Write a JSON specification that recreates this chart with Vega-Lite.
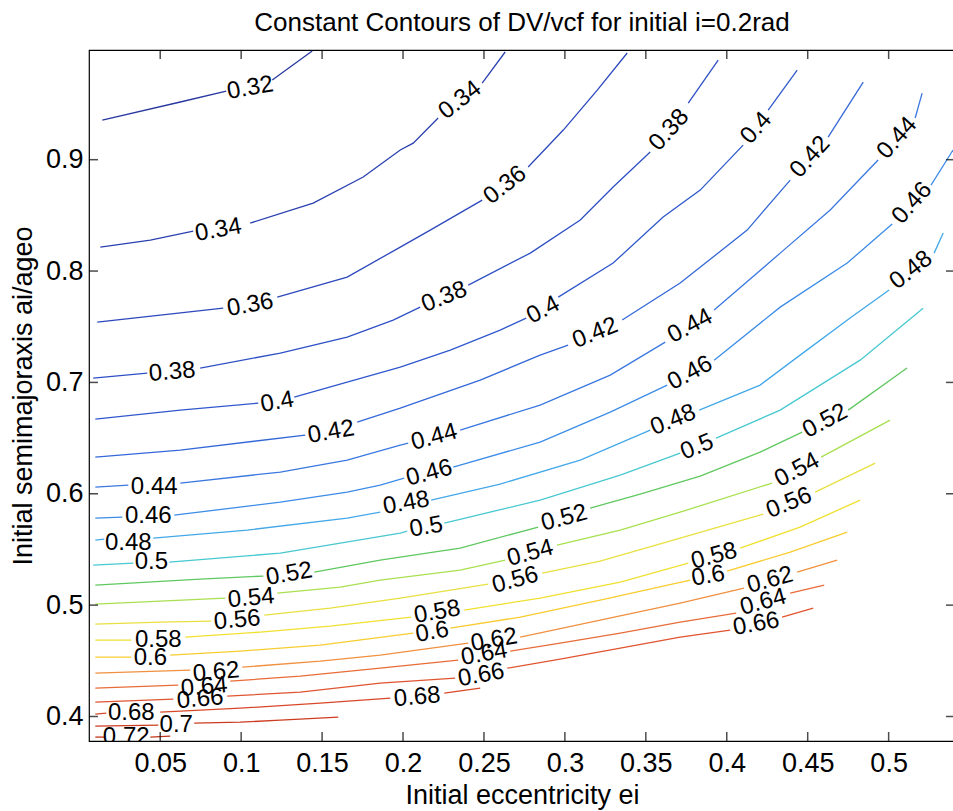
{
"$schema": "https://vega.github.io/schema/vega-lite/v6.json",
"width": 866, "height": 691,
"autosize": {"type": "none"},
"padding": {"left": 89, "top": 50, "right": 0, "bottom": 70},
"background": "white",
"title": {"text": "Constant Contours of DV/vcf for initial i=0.2rad", "fontSize": 26, "font": "Liberation Sans", "fontWeight": "normal", "color": "black", "anchor": "middle", "offset": 14},
"config": {
  "view": {"stroke": "black", "strokeWidth": 1.2},
  "axis": {"grid": false, "domain": false, "ticks": true, "zindex": 2, "tickColor": "#000000", "tickOpacity": 1, "tickWidth": 2, "labelColor": "black", "titleColor": "black", "labelFont": "Liberation Sans", "titleFont": "Liberation Sans", "labelFontSize": 27, "titleFontSize": 27, "titleFontWeight": "normal"}
},
"datasets": {
"lines": [
{"l":0.32,"s":0,"e":0.0142,"a":0.9356},{"l":0.32,"s":0,"e":0.0624,"a":0.9518},{"l":0.32,"s":0,"e":0.0908,"a":0.9615},
{"l":0.32,"s":1,"e":0.1192,"a":0.9715},{"l":0.32,"s":1,"e":0.1439,"a":0.9976},
{"l":0.34,"s":0,"e":0.0130,"a":0.8215},{"l":0.34,"s":0,"e":0.0439,"a":0.8278},{"l":0.34,"s":0,"e":0.0704,"a":0.8359},
{"l":0.34,"s":1,"e":0.1056,"a":0.8431},{"l":0.34,"s":1,"e":0.1445,"a":0.8610},{"l":0.34,"s":1,"e":0.1754,"a":0.8844},{"l":0.34,"s":1,"e":0.1983,"a":0.9087},{"l":0.34,"s":1,"e":0.2063,"a":0.9149},{"l":0.34,"s":1,"e":0.2217,"a":0.9374},
{"l":0.34,"s":2,"e":0.2489,"a":0.9688},{"l":0.34,"s":2,"e":0.2631,"a":0.9967},
{"l":0.36,"s":0,"e":0.0111,"a":0.7542},{"l":0.36,"s":0,"e":0.0500,"a":0.7605},{"l":0.36,"s":0,"e":0.0889,"a":0.7667},
{"l":0.36,"s":1,"e":0.1223,"a":0.7766},{"l":0.36,"s":1,"e":0.1655,"a":0.7946},{"l":0.36,"s":1,"e":0.1983,"a":0.8215},{"l":0.36,"s":1,"e":0.2168,"a":0.8368},{"l":0.36,"s":1,"e":0.2489,"a":0.8637},
{"l":0.36,"s":2,"e":0.2773,"a":0.8934},{"l":0.36,"s":2,"e":0.2990,"a":0.9266},{"l":0.36,"s":2,"e":0.3200,"a":0.9624},{"l":0.36,"s":2,"e":0.3385,"a":0.9958},
{"l":0.38,"s":0,"e":0.0086,"a":0.7039},{"l":0.38,"s":0,"e":0.0420,"a":0.7084},
{"l":0.38,"s":1,"e":0.0747,"a":0.7129},{"l":0.38,"s":1,"e":0.1242,"a":0.7263},{"l":0.38,"s":1,"e":0.1655,"a":0.7407},{"l":0.38,"s":1,"e":0.1939,"a":0.7560},{"l":0.38,"s":1,"e":0.2106,"a":0.7676},
{"l":0.38,"s":2,"e":0.2403,"a":0.7874},{"l":0.38,"s":2,"e":0.2786,"a":0.8161},{"l":0.38,"s":2,"e":0.3095,"a":0.8458},{"l":0.38,"s":2,"e":0.3298,"a":0.8754},{"l":0.38,"s":2,"e":0.3527,"a":0.9069},
{"l":0.38,"s":3,"e":0.3762,"a":0.9509},{"l":0.38,"s":3,"e":0.3947,"a":0.9895},
{"l":0.40,"s":0,"e":0.0099,"a":0.6671},{"l":0.40,"s":0,"e":0.0624,"a":0.6751},{"l":0.40,"s":0,"e":0.1106,"a":0.6814},
{"l":0.40,"s":1,"e":0.1328,"a":0.6868},{"l":0.40,"s":1,"e":0.1655,"a":0.7003},{"l":0.40,"s":1,"e":0.1983,"a":0.7138},{"l":0.40,"s":1,"e":0.2292,"a":0.7290},{"l":0.40,"s":1,"e":0.2600,"a":0.7470},{"l":0.40,"s":1,"e":0.2761,"a":0.7578},
{"l":0.40,"s":2,"e":0.2959,"a":0.7766},{"l":0.40,"s":2,"e":0.3298,"a":0.8072},{"l":0.40,"s":2,"e":0.3607,"a":0.8485},{"l":0.40,"s":2,"e":0.3836,"a":0.8727},{"l":0.40,"s":2,"e":0.4101,"a":0.9131},
{"l":0.40,"s":3,"e":0.4256,"a":0.9446},{"l":0.40,"s":3,"e":0.4435,"a":0.9805},
{"l":0.42,"s":0,"e":0.0099,"a":0.6329},{"l":0.42,"s":0,"e":0.0624,"a":0.6392},{"l":0.42,"s":0,"e":0.1396,"a":0.6527},
{"l":0.42,"s":1,"e":0.1717,"a":0.6644},{"l":0.42,"s":1,"e":0.1983,"a":0.6769},{"l":0.42,"s":1,"e":0.2477,"a":0.7021},{"l":0.42,"s":1,"e":0.2847,"a":0.7245},{"l":0.42,"s":1,"e":0.3020,"a":0.7335},
{"l":0.42,"s":2,"e":0.3354,"a":0.7560},{"l":0.42,"s":2,"e":0.3712,"a":0.7892},{"l":0.42,"s":2,"e":0.4126,"a":0.8368},{"l":0.42,"s":2,"e":0.4392,"a":0.8817},
{"l":0.42,"s":3,"e":0.4626,"a":0.9203},{"l":0.42,"s":3,"e":0.4843,"a":0.9697},
{"l":0.44,"s":0,"e":0.0099,"a":0.6060},{"l":0.44,"s":0,"e":0.0303,"a":0.6078},
{"l":0.44,"s":1,"e":0.0624,"a":0.6096},{"l":0.44,"s":1,"e":0.1242,"a":0.6195},{"l":0.44,"s":1,"e":0.1655,"a":0.6302},{"l":0.44,"s":1,"e":0.1983,"a":0.6437},{"l":0.44,"s":1,"e":0.2032,"a":0.6455},
{"l":0.44,"s":2,"e":0.2353,"a":0.6572},{"l":0.44,"s":2,"e":0.2847,"a":0.6796},{"l":0.44,"s":2,"e":0.3280,"a":0.7066},{"l":0.44,"s":2,"e":0.3620,"a":0.7362},
{"l":0.44,"s":3,"e":0.3922,"a":0.7650},{"l":0.44,"s":3,"e":0.4330,"a":0.8161},{"l":0.44,"s":3,"e":0.4639,"a":0.8548},{"l":0.44,"s":3,"e":0.4935,"a":0.8997},
{"l":0.44,"s":4,"e":0.5164,"a":0.9374},{"l":0.44,"s":4,"e":0.5207,"a":0.9598},
{"l":0.46,"s":0,"e":0.0099,"a":0.5782},{"l":0.46,"s":0,"e":0.0266,"a":0.5791},
{"l":0.46,"s":1,"e":0.0587,"a":0.5808},{"l":0.46,"s":1,"e":0.1242,"a":0.5925},{"l":0.46,"s":1,"e":0.1655,"a":0.6015},{"l":0.46,"s":1,"e":0.1859,"a":0.6078},{"l":0.46,"s":1,"e":0.2007,"a":0.6141},
{"l":0.46,"s":2,"e":0.2310,"a":0.6240},{"l":0.46,"s":2,"e":0.2847,"a":0.6464},{"l":0.46,"s":2,"e":0.3280,"a":0.6733},{"l":0.46,"s":2,"e":0.3632,"a":0.6976},
{"l":0.46,"s":3,"e":0.3922,"a":0.7200},{"l":0.46,"s":3,"e":0.4330,"a":0.7676},{"l":0.46,"s":3,"e":0.4744,"a":0.8072},{"l":0.46,"s":3,"e":0.5022,"a":0.8422},
{"l":0.46,"s":4,"e":0.5262,"a":0.8772},{"l":0.46,"s":4,"e":0.5398,"a":0.9087},
{"l":0.48,"s":0,"e":0.0099,"a":0.5584},{"l":0.48,"s":0,"e":0.0154,"a":0.5593},
{"l":0.48,"s":1,"e":0.0457,"a":0.5602},{"l":0.48,"s":1,"e":0.1038,"a":0.5674},{"l":0.48,"s":1,"e":0.1655,"a":0.5782},{"l":0.48,"s":1,"e":0.1859,"a":0.5835},
{"l":0.48,"s":2,"e":0.2174,"a":0.5943},{"l":0.48,"s":2,"e":0.2600,"a":0.6087},{"l":0.48,"s":2,"e":0.3095,"a":0.6302},{"l":0.48,"s":2,"e":0.3527,"a":0.6572},
{"l":0.48,"s":3,"e":0.3830,"a":0.6751},{"l":0.48,"s":3,"e":0.4206,"a":0.6976},{"l":0.48,"s":3,"e":0.4453,"a":0.7245},{"l":0.48,"s":3,"e":0.4762,"a":0.7578},{"l":0.48,"s":3,"e":0.5003,"a":0.7829},
{"l":0.48,"s":4,"e":0.5281,"a":0.8161},{"l":0.48,"s":4,"e":0.5337,"a":0.8341},
{"l":0.50,"s":0,"e":0.0086,"a":0.5359},{"l":0.50,"s":0,"e":0.0334,"a":0.5377},
{"l":0.50,"s":1,"e":0.0556,"a":0.5386},{"l":0.50,"s":1,"e":0.1242,"a":0.5467},{"l":0.50,"s":1,"e":0.1983,"a":0.5647},{"l":0.50,"s":1,"e":0.2026,"a":0.5665},
{"l":0.50,"s":2,"e":0.2255,"a":0.5737},{"l":0.50,"s":2,"e":0.2847,"a":0.5943},{"l":0.50,"s":2,"e":0.3342,"a":0.6168},{"l":0.50,"s":2,"e":0.3712,"a":0.6365},
{"l":0.50,"s":3,"e":0.3934,"a":0.6500},{"l":0.50,"s":3,"e":0.4330,"a":0.6751},{"l":0.50,"s":3,"e":0.4824,"a":0.7200},{"l":0.50,"s":3,"e":0.5213,"a":0.7667},
{"l":0.52,"s":0,"e":0.0099,"a":0.5180},{"l":0.52,"s":0,"e":0.0747,"a":0.5234},{"l":0.52,"s":0,"e":0.1137,"a":0.5261},
{"l":0.52,"s":1,"e":0.1452,"a":0.5297},{"l":0.52,"s":1,"e":0.1859,"a":0.5404},{"l":0.52,"s":1,"e":0.2353,"a":0.5512},{"l":0.52,"s":1,"e":0.2835,"a":0.5701},
{"l":0.52,"s":2,"e":0.3156,"a":0.5871},{"l":0.52,"s":2,"e":0.3465,"a":0.5997},{"l":0.52,"s":2,"e":0.3836,"a":0.6159},{"l":0.52,"s":2,"e":0.4206,"a":0.6374},{"l":0.52,"s":2,"e":0.4466,"a":0.6554},
{"l":0.52,"s":3,"e":0.4750,"a":0.6751},{"l":0.52,"s":3,"e":0.5114,"a":0.7129},
{"l":0.54,"s":0,"e":0.0099,"a":0.5009},{"l":0.54,"s":0,"e":0.0500,"a":0.5036},{"l":0.54,"s":0,"e":0.0902,"a":0.5063},
{"l":0.54,"s":1,"e":0.1223,"a":0.5108},{"l":0.54,"s":1,"e":0.1612,"a":0.5162},{"l":0.54,"s":1,"e":0.1859,"a":0.5225},{"l":0.54,"s":1,"e":0.2353,"a":0.5315},{"l":0.54,"s":1,"e":0.2631,"a":0.5404},
{"l":0.54,"s":2,"e":0.2952,"a":0.5539},{"l":0.54,"s":2,"e":0.3342,"a":0.5674},{"l":0.54,"s":2,"e":0.3712,"a":0.5835},{"l":0.54,"s":2,"e":0.4280,"a":0.6096},
{"l":0.54,"s":3,"e":0.4583,"a":0.6329},{"l":0.54,"s":3,"e":0.5009,"a":0.6662},
{"l":0.56,"s":0,"e":0.0099,"a":0.4830},{"l":0.56,"s":0,"e":0.0500,"a":0.4847},{"l":0.56,"s":0,"e":0.0815,"a":0.4856},
{"l":0.56,"s":1,"e":0.1143,"a":0.4910},{"l":0.56,"s":1,"e":0.1550,"a":0.4973},{"l":0.56,"s":1,"e":0.1983,"a":0.5063},{"l":0.56,"s":1,"e":0.2526,"a":0.5189},
{"l":0.56,"s":2,"e":0.2860,"a":0.5288},{"l":0.56,"s":2,"e":0.3218,"a":0.5395},{"l":0.56,"s":2,"e":0.3712,"a":0.5602},{"l":0.56,"s":2,"e":0.4225,"a":0.5817},
{"l":0.56,"s":3,"e":0.4546,"a":0.6015},{"l":0.56,"s":3,"e":0.4917,"a":0.6275},
{"l":0.58,"s":0,"e":0.0099,"a":0.4686},{"l":0.58,"s":0,"e":0.0321,"a":0.4686},
{"l":0.58,"s":1,"e":0.0655,"a":0.4713},{"l":0.58,"s":1,"e":0.1118,"a":0.4758},{"l":0.58,"s":1,"e":0.1550,"a":0.4812},{"l":0.58,"s":1,"e":0.2051,"a":0.4892},
{"l":0.58,"s":2,"e":0.2378,"a":0.4955},{"l":0.58,"s":2,"e":0.2847,"a":0.5063},{"l":0.58,"s":2,"e":0.3342,"a":0.5207},{"l":0.58,"s":2,"e":0.3762,"a":0.5377},
{"l":0.58,"s":3,"e":0.4083,"a":0.5512},{"l":0.58,"s":3,"e":0.4453,"a":0.5701},{"l":0.58,"s":3,"e":0.4824,"a":0.5943},
{"l":0.60,"s":0,"e":0.0099,"a":0.4533},{"l":0.60,"s":0,"e":0.0321,"a":0.4533},
{"l":0.60,"s":1,"e":0.0562,"a":0.4551},{"l":0.60,"s":1,"e":0.0994,"a":0.4587},{"l":0.60,"s":1,"e":0.1489,"a":0.4641},{"l":0.60,"s":1,"e":0.2063,"a":0.4749},
{"l":0.60,"s":2,"e":0.2292,"a":0.4794},{"l":0.60,"s":2,"e":0.2724,"a":0.4892},{"l":0.60,"s":2,"e":0.3218,"a":0.5045},{"l":0.60,"s":2,"e":0.3774,"a":0.5225},
{"l":0.60,"s":3,"e":0.4002,"a":0.5306},{"l":0.60,"s":3,"e":0.4392,"a":0.5476},{"l":0.60,"s":3,"e":0.4744,"a":0.5656},
{"l":0.62,"s":0,"e":0.0099,"a":0.4389},{"l":0.62,"s":0,"e":0.0686,"a":0.4417},
{"l":0.62,"s":1,"e":0.1007,"a":0.4443},{"l":0.62,"s":1,"e":0.1489,"a":0.4497},{"l":0.62,"s":1,"e":0.1859,"a":0.4551},{"l":0.62,"s":1,"e":0.2403,"a":0.4659},
{"l":0.62,"s":2,"e":0.2724,"a":0.4713},{"l":0.62,"s":2,"e":0.3218,"a":0.4865},{"l":0.62,"s":2,"e":0.3712,"a":0.5018},{"l":0.62,"s":2,"e":0.4107,"a":0.5153},
{"l":0.62,"s":3,"e":0.4435,"a":0.5297},{"l":0.62,"s":3,"e":0.4682,"a":0.5404},
{"l":0.64,"s":0,"e":0.0099,"a":0.4255},{"l":0.64,"s":0,"e":0.0611,"a":0.4282},
{"l":0.64,"s":1,"e":0.0933,"a":0.4318},{"l":0.64,"s":1,"e":0.1365,"a":0.4362},{"l":0.64,"s":1,"e":0.1859,"a":0.4434},{"l":0.64,"s":1,"e":0.2341,"a":0.4506},
{"l":0.64,"s":2,"e":0.2662,"a":0.4587},{"l":0.64,"s":2,"e":0.2971,"a":0.4659},{"l":0.64,"s":2,"e":0.3342,"a":0.4749},{"l":0.64,"s":2,"e":0.3712,"a":0.4847},{"l":0.64,"s":2,"e":0.4058,"a":0.4928},
{"l":0.64,"s":3,"e":0.4392,"a":0.5108},{"l":0.64,"s":3,"e":0.4602,"a":0.5180},
{"l":0.66,"s":0,"e":0.0099,"a":0.4129},{"l":0.66,"s":0,"e":0.0581,"a":0.4156},
{"l":0.66,"s":1,"e":0.0914,"a":0.4183},{"l":0.66,"s":1,"e":0.1365,"a":0.4219},{"l":0.66,"s":1,"e":0.1859,"a":0.4300},{"l":0.66,"s":1,"e":0.2322,"a":0.4345},
{"l":0.66,"s":2,"e":0.2644,"a":0.4434},{"l":0.66,"s":2,"e":0.2971,"a":0.4515},{"l":0.66,"s":2,"e":0.3342,"a":0.4614},{"l":0.66,"s":2,"e":0.3712,"a":0.4713},{"l":0.66,"s":2,"e":0.4021,"a":0.4776},
{"l":0.66,"s":3,"e":0.4342,"a":0.4892},{"l":0.66,"s":3,"e":0.4534,"a":0.4973},
{"l":0.68,"s":0,"e":0.0099,"a":0.4021},{"l":0.68,"s":0,"e":0.0167,"a":0.4030},
{"l":0.68,"s":1,"e":0.0500,"a":0.4039},{"l":0.68,"s":1,"e":0.0994,"a":0.4075},{"l":0.68,"s":1,"e":0.1489,"a":0.4120},{"l":0.68,"s":1,"e":0.1921,"a":0.4165},
{"l":0.68,"s":2,"e":0.2255,"a":0.4210},{"l":0.68,"s":2,"e":0.2477,"a":0.4255},
{"l":0.70,"s":0,"e":0.0099,"a":0.3913},{"l":0.70,"s":0,"e":0.0488,"a":0.3922},
{"l":0.70,"s":1,"e":0.0710,"a":0.3940},{"l":0.70,"s":1,"e":0.0994,"a":0.3949},{"l":0.70,"s":1,"e":0.1242,"a":0.3967},{"l":0.70,"s":1,"e":0.1600,"a":0.3994},
{"l":0.72,"s":0,"e":0.0099,"a":0.3815},{"l":0.72,"s":0,"e":0.0154,"a":0.3815},
{"l":0.72,"s":1,"e":0.0439,"a":0.3815},{"l":0.72,"s":1,"e":0.0562,"a":0.3823}
],
"ticksx": [{"e":0.05},{"e":0.1},{"e":0.15},{"e":0.2},{"e":0.25},{"e":0.3},{"e":0.35},{"e":0.4},{"e":0.45},{"e":0.5}],
"ticksy": [{"a":0.4},{"a":0.5},{"a":0.6},{"a":0.7},{"a":0.8},{"a":0.9}],
"g0": [{"l":0.44,"e":0.0463,"a":0.6060},{"l":0.46,"e":0.0426,"a":0.5799},{"l":0.48,"e":0.0303,"a":0.5557},{"l":0.5,"e":0.0445,"a":0.5386},{"l":0.58,"e":0.0488,"a":0.4686},{"l":0.6,"e":0.0439,"a":0.4524},{"l":0.68,"e":0.0321,"a":0.4030},{"l":0.7,"e":0.0599,"a":0.3922},{"l":0.72,"e":0.0290,"a":0.3815}],
"g5": [{"l":0.38,"e":0.0574,"a":0.7093},{"l":0.54,"e":0.1062,"a":0.5063},{"l":0.56,"e":0.0976,"a":0.4865},{"l":0.62,"e":0.0846,"a":0.4398},{"l":0.64,"e":0.0772,"a":0.4264},{"l":0.66,"e":0.0747,"a":0.4156},{"l":0.68,"e":0.2088,"a":0.4174}],
"g10": [{"l":0.32,"e":0.1056,"a":0.9643},{"l":0.34,"e":0.0859,"a":0.8368},{"l":0.36,"e":0.1056,"a":0.7694},{"l":0.4,"e":0.1223,"a":0.6823},{"l":0.42,"e":0.1556,"a":0.6554},{"l":0.52,"e":0.1297,"a":0.5279},{"l":0.6,"e":0.2180,"a":0.4758},{"l":0.58,"e":0.2211,"a":0.4937},{"l":0.62,"e":0.2563,"a":0.4686},{"l":0.64,"e":0.2502,"a":0.4560},{"l":0.66,"e":0.2483,"a":0.4371},{"l":0.48,"e":0.2020,"a":0.5916},{"l":0.5,"e":0.2143,"a":0.5701},{"l":0.6,"e":0.3885,"a":0.5261},{"l":0.66,"e":0.4182,"a":0.4830}],
"g15": [{"l":0.44,"e":0.2193,"a":0.6509},{"l":0.46,"e":0.2162,"a":0.6186},{"l":0.52,"e":0.2996,"a":0.5782},{"l":0.54,"e":0.2786,"a":0.5467},{"l":0.56,"e":0.2693,"a":0.5225},{"l":0.58,"e":0.3922,"a":0.5440},{"l":0.62,"e":0.4268,"a":0.5225},{"l":0.64,"e":0.4225,"a":0.5027}],
"g22": [{"l":0.5,"e":0.3817,"a":0.6419},{"l":0.56,"e":0.4385,"a":0.5916},{"l":0.38,"e":0.2255,"a":0.7766},{"l":0.42,"e":0.3187,"a":0.7443},{"l":0.48,"e":0.3669,"a":0.6662}],
"g28": [{"l":0.4,"e":0.2866,"a":0.7650},{"l":0.46,"e":0.3774,"a":0.7084},{"l":0.44,"e":0.3774,"a":0.7506},{"l":0.52,"e":0.4608,"a":0.6653},{"l":0.54,"e":0.4435,"a":0.6213}],
"g38": [{"l":0.34,"e":0.2353,"a":0.9534},{"l":0.36,"e":0.2631,"a":0.8772},{"l":0.48,"e":0.5139,"a":0.8009}],
"g48": [{"l":0.38,"e":0.3644,"a":0.9266},{"l":0.4,"e":0.4182,"a":0.9284},{"l":0.42,"e":0.4515,"a":0.9024},{"l":0.44,"e":0.5053,"a":0.9194},{"l":0.46,"e":0.5145,"a":0.8610}]
},
"resolve": {"axis": {"x": "independent", "y": "independent"}},
"layer": [
{"data": {"name": "lines"},
 "mark": {"type": "line", "clip": true, "strokeWidth": 1.3},
 "encoding": {
  "x": {"field": "e", "type": "quantitative", "scale": {"domain": [0.006, 0.541], "nice": false, "zero": false},
        "axis": {"orient": "bottom", "values": [0.05,0.1,0.15,0.2,0.25,0.3,0.35,0.4,0.45,0.5], "format": "~g", "title": "Initial eccentricity ei", "ticks": false, "labelPadding": 9, "titlePadding": 6}},
  "y": {"field": "a", "type": "quantitative", "scale": {"domain": [0.378, 0.9985], "nice": false, "zero": false},
        "axis": {"orient": "left", "values": [0.4,0.5,0.6,0.7,0.8,0.9], "format": "~g", "title": "Initial semimajoraxis ai/ageo", "ticks": false, "labelPadding": 6, "titlePadding": 8}},
  "color": {"field": "l", "type": "ordinal", "legend": null,
    "scale": {"domain": [0.32,0.34,0.36,0.38,0.4,0.42,0.44,0.46,0.48,0.5,0.52,0.54,0.56,0.58,0.6,0.62,0.64,0.66,0.68,0.7,0.72],
              "range": ["#2838a0","#2a40b0","#2c48bc","#2e50c4","#3058cc","#3468d8","#3a78e0","#3c8ce8","#44a8e8","#48c8d0","#60c860","#a8e050","#e8e040","#f0e030","#f8cc30","#f09040","#e86c38","#e05430","#d84828","#cc3c20","#c03418"]}},
  "detail": [{"field": "l"}, {"field": "s"}]
 }},
{"data": {"name": "ticksx"}, "mark": {"type": "tick", "orient": "vertical", "color": "black", "thickness": 1.5, "size": 18, "clip": true},
 "encoding": {"x": {"field": "e", "type": "quantitative", "axis": null}, "y": {"datum": 0.378, "type": "quantitative", "axis": null}}},
{"data": {"name": "ticksx"}, "mark": {"type": "tick", "orient": "vertical", "color": "black", "thickness": 1.5, "size": 18, "clip": true},
 "encoding": {"x": {"field": "e", "type": "quantitative", "axis": null}, "y": {"datum": 0.9985, "type": "quantitative", "axis": null}}},
{"data": {"name": "ticksy"}, "mark": {"type": "tick", "orient": "horizontal", "color": "black", "thickness": 1.5, "size": 18, "clip": true},
 "encoding": {"y": {"field": "a", "type": "quantitative", "axis": null}, "x": {"datum": 0.006, "type": "quantitative", "axis": null}}},
{"data": {"name": "ticksy"}, "mark": {"type": "tick", "orient": "horizontal", "color": "black", "thickness": 1.5, "size": 18, "clip": true},
 "encoding": {"y": {"field": "a", "type": "quantitative", "axis": null}, "x": {"datum": 0.541, "type": "quantitative", "axis": null}}},
{"data": {"name": "g0"}, "mark": {"type": "text", "angle": 0, "fontSize": 24, "font": "Liberation Sans", "color": "black", "clip": true},
 "encoding": {"x": {"field": "e", "type": "quantitative", "axis": null}, "y": {"field": "a", "type": "quantitative", "axis": null}, "text": {"field": "l", "type": "quantitative", "format": "~g"}}},
{"data": {"name": "g5"}, "mark": {"type": "text", "angle": 355, "fontSize": 24, "font": "Liberation Sans", "color": "black", "clip": true},
 "encoding": {"x": {"field": "e", "type": "quantitative", "axis": null}, "y": {"field": "a", "type": "quantitative", "axis": null}, "text": {"field": "l", "type": "quantitative", "format": "~g"}}},
{"data": {"name": "g10"}, "mark": {"type": "text", "angle": 350, "fontSize": 24, "font": "Liberation Sans", "color": "black", "clip": true},
 "encoding": {"x": {"field": "e", "type": "quantitative", "axis": null}, "y": {"field": "a", "type": "quantitative", "axis": null}, "text": {"field": "l", "type": "quantitative", "format": "~g"}}},
{"data": {"name": "g15"}, "mark": {"type": "text", "angle": 345, "fontSize": 24, "font": "Liberation Sans", "color": "black", "clip": true},
 "encoding": {"x": {"field": "e", "type": "quantitative", "axis": null}, "y": {"field": "a", "type": "quantitative", "axis": null}, "text": {"field": "l", "type": "quantitative", "format": "~g"}}},
{"data": {"name": "g22"}, "mark": {"type": "text", "angle": 338, "fontSize": 24, "font": "Liberation Sans", "color": "black", "clip": true},
 "encoding": {"x": {"field": "e", "type": "quantitative", "axis": null}, "y": {"field": "a", "type": "quantitative", "axis": null}, "text": {"field": "l", "type": "quantitative", "format": "~g"}}},
{"data": {"name": "g28"}, "mark": {"type": "text", "angle": 332, "fontSize": 24, "font": "Liberation Sans", "color": "black", "clip": true},
 "encoding": {"x": {"field": "e", "type": "quantitative", "axis": null}, "y": {"field": "a", "type": "quantitative", "axis": null}, "text": {"field": "l", "type": "quantitative", "format": "~g"}}},
{"data": {"name": "g38"}, "mark": {"type": "text", "angle": 322, "fontSize": 24, "font": "Liberation Sans", "color": "black", "clip": true},
 "encoding": {"x": {"field": "e", "type": "quantitative", "axis": null}, "y": {"field": "a", "type": "quantitative", "axis": null}, "text": {"field": "l", "type": "quantitative", "format": "~g"}}},
{"data": {"name": "g48"}, "mark": {"type": "text", "angle": 312, "fontSize": 24, "font": "Liberation Sans", "color": "black", "clip": true},
 "encoding": {"x": {"field": "e", "type": "quantitative", "axis": null}, "y": {"field": "a", "type": "quantitative", "axis": null}, "text": {"field": "l", "type": "quantitative", "format": "~g"}}}
]
}
